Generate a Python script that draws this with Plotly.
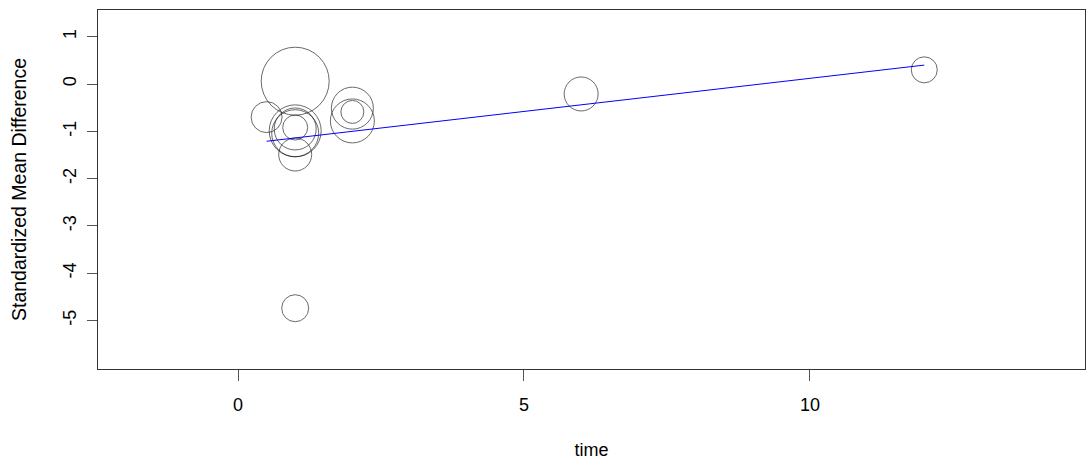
import numpy as np
import plotly.graph_objects as go

# ---- data ----
time = [0.5, 1, 1, 1, 1, 1, 1, 1, 2, 2, 2, 6, 12]
smd = [-0.70, 0.06, -0.99, -1.04, -0.95, -0.92, -1.49, -4.74, -0.51, -0.78, -0.59, -0.21, 0.30]
weights = [2.40, 11.56, 6.76, 5.52, 4.41, 1.56, 2.72, 1.82, 4.41, 4.84, 1.32, 2.89, 1.69]
fit_intercept = -1.28
fit_slope = 0.14

x_ticks = [0, 5, 10]
y_ticks = [1, 0, -1, -2, -3, -4, -5]

FONT = "Liberation Sans, Arial, sans-serif"

diam = [20 * np.sqrt(w) for w in weights]

fig = go.Figure()
fig.add_trace(go.Scatter(
    x=time, y=smd, mode="markers",
    marker=dict(size=diam, sizemode="diameter", color="rgba(0,0,0,0)",
                line=dict(color="rgba(20,20,20,0.9)", width=1)),
    hoverinfo="x+y", showlegend=False,
))
fx = np.array([min(time), max(time)])
fig.add_trace(go.Scatter(
    x=fx, y=fit_intercept + fit_slope * fx, mode="lines",
    line=dict(color="#0000FF", width=1), showlegend=False,
))

fig.update_layout(
    width=1086, height=464,
    margin=dict(l=98, r=1, t=10, b=95),
    paper_bgcolor="white", plot_bgcolor="white",
    font=dict(family=FONT, size=18, color="black"),
    xaxis=dict(
        range=[-2.448, 14.81], tickvals=x_ticks, ticktext=[str(v) for v in x_ticks],
        showgrid=False, zeroline=False, showline=True, mirror=True,
        linecolor="#333333", linewidth=1, automargin=False,
        ticks="outside", ticklen=11, tickcolor="#555555", tickwidth=1,
        ticklabelstandoff=8,
        title=dict(text="time", font=dict(size=18), standoff=29),
    ),
    yaxis=dict(
        range=[-6.025, 1.565], tickvals=y_ticks, ticktext=[str(v) for v in y_ticks],
        showgrid=False, zeroline=False, showline=True, mirror=True,
        linecolor="#333333", linewidth=1, automargin=False,
        ticks="outside", ticklen=10, tickcolor="#555555", tickwidth=1,
        tickangle=-90, ticklabelstandoff=4,
        title=dict(text="Standardized Mean Difference", font=dict(size=19.5), standoff=27),
    ),
)

fig.write_html("out.html",
               config={"displayModeBar": False},
               post_script="document.body.style.margin='0';document.body.style.overflow='hidden';")
